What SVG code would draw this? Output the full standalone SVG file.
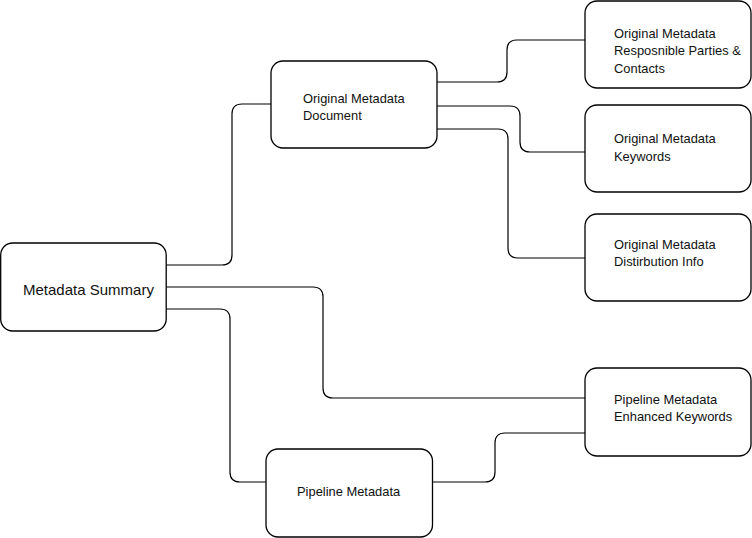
<svg xmlns="http://www.w3.org/2000/svg" width="752" height="538" viewBox="0 0 752 538">
<style>
.box{fill:#fff;stroke:#000;stroke-width:1.3}
.c{fill:none;stroke:#000;stroke-width:1.2}
text{font-family:"Liberation Sans",Arial,sans-serif;font-size:12.9px;fill:#111}
.big{font-size:15px}
</style>
<rect width="752" height="538" fill="#fff"/>
<g id="connectors">
<path class="c" d="M166,265 H222 Q232,265 232,255 V114 Q232,104 242,104 H271"/>
<path class="c" d="M166,287 H313 Q323,287 323,297 V388 Q323,398 333,398 H585"/>
<path class="c" d="M166,309 H220 Q230,309 230,319 V472 Q230,482 240,482 H266"/>
<path class="c" d="M437,82 H497 Q507,82 507,72 V50 Q507,40 517,40 H585"/>
<path class="c" d="M437,106 H510 Q520,106 520,116 V142 Q520,152 530,152 H585"/>
<path class="c" d="M437,129 H498 Q508,129 508,139 V248 Q508,258 518,258 H585"/>
<path class="c" d="M433,482 H485 Q495,482 495,472 V443 Q495,433 505,433 H585"/>
</g>
<g id="summary">
<rect class="box" x="0.7" y="243" width="165.5" height="88" rx="12"/>
<text class="big" x="23" y="295">Metadata Summary</text>
</g>
<g id="doc">
<rect class="box" x="271" y="61" width="166" height="87" rx="12"/>
<text x="303" y="103">Original Metadata</text>
<text x="303" y="120">Document</text>
</g>
<g id="parties">
<rect class="box" x="585" y="1" width="166" height="87" rx="12"/>
<text x="614" y="38">Original Metadata</text>
<text x="614" y="55">Resposnible Parties &amp;</text>
<text x="614" y="73">Contacts</text>
</g>
<g id="keywords">
<rect class="box" x="585" y="105" width="166" height="87" rx="12"/>
<text x="614" y="143">Original Metadata</text>
<text x="614" y="161">Keywords</text>
</g>
<g id="distribution">
<rect class="box" x="585" y="214" width="166" height="87" rx="12"/>
<text x="614" y="249">Original Metadata</text>
<text x="614" y="266">Distirbution Info</text>
</g>
<g id="enhanced">
<rect class="box" x="585" y="368" width="166" height="88" rx="12"/>
<text x="614" y="404">Pipeline Metadata</text>
<text x="614" y="421">Enhanced Keywords</text>
</g>
<g id="pipeline">
<rect class="box" x="266" y="449" width="166.5" height="88" rx="12"/>
<text x="297" y="496">Pipeline Metadata</text>
</g>
</svg>
